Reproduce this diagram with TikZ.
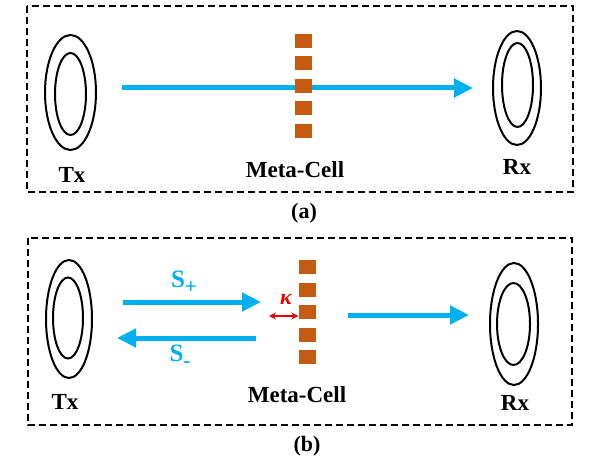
\documentclass[tikz,border=0pt]{standalone}
\usepackage{fontspec}
\setmainfont{Liberation Serif}
\usetikzlibrary{arrows.meta,shapes.geometric}
\definecolor{wavecolor}{RGB}{0,176,240}
\definecolor{cellcolor}{RGB}{197,90,17}
\definecolor{kappared}{RGB}{235,0,0}
\newcommand{\wsub}[1]{\raisebox{-0.5ex}{\fontsize{21}{24}\selectfont #1}}
\tikzset{
  frame/.style={draw, dash pattern=on 7pt off 4pt, line width=1.1pt},
  loop/.style={draw, ellipse, line width=2pt, inner sep=0pt},
  cell/.style={fill=cellcolor, minimum width=17pt, minimum height=14pt, inner sep=0pt},
  wave/.style={wavecolor, line width=5pt, -{Triangle[length=19pt,width=18pt]}},
  lab/.style={font=\fontsize{23}{26}\selectfont\bfseries},
}

\begin{document}
\begin{tikzpicture}[x=1pt, y=-1pt]
    \useasboundingbox (0,0) rectangle (593,462);
    % Panel (a): direct link
    \draw[frame] (27,6) rectangle (573,192);
    \node[loop, minimum width=51pt, minimum height=115pt] (txa-out) at (70.5,92.5) {};
    \node[loop, minimum width=31pt, minimum height=82pt] (txa-in) at (70.5,94) {};
    \node[loop, minimum width=48pt, minimum height=114pt] (rxa-out) at (517,88) {};
    \node[loop, minimum width=31pt, minimum height=84pt] (rxa-in) at (517.5,85) {};
    \node[lab] (txa-lab) at (72,175) {Tx};
    \node[lab] (rxa-lab) at (517,167) {Rx};
    \node[lab] (cella-lab) at (295,170) {Meta-Cell};
    \coordinate (a-src) at (122,88);
    \coordinate (a-dst) at (473,88);
    \draw[wave] (a-src) -- (a-dst);
    % Cells
    \foreach \k in {1,...,5} {
      \node[cell] (cella-\k) at (303,{41+22.5*(\k-1)}) {};
    }
    \node[font=\fontsize{22}{26}\selectfont\bfseries] (cap-a) at (304,213) {(a)};

    % Panel (b): incident, reflected and transmitted waves
    \draw[frame] (28,238) rectangle (572,425);
    \node[loop, minimum width=46pt, minimum height=118pt] (txb-out) at (69,319) {};
    \node[loop, minimum width=30pt, minimum height=81pt] (txb-in) at (68,318) {};
    \node[loop, minimum width=48pt, minimum height=122pt] (rxb-out) at (514,324) {};
    \node[loop, minimum width=33pt, minimum height=82pt] (rxb-in) at (513.5,324) {};
    \node[lab] (txb-lab) at (65,402) {Tx};
    \node[lab] (rxb-lab) at (515,403) {Rx};
    \node[lab] (cellb-lab) at (297,395) {Meta-Cell};
    % Cells
    \foreach \k in {1,...,5} {
      \node[cell] (cellb-\k) at (307,{267+22.5*(\k-1)}) {};
    }
    \coordinate (sp-src) at (123,302);
    \coordinate (sp-dst) at (261,302);
    \coordinate (sm-src) at (256,338);
    \coordinate (sm-dst) at (117,338);
    \coordinate (tr-src) at (348,315);
    \coordinate (tr-dst) at (469,315);
    \coordinate (k-end) at (269,316);
    \draw[wave] (sp-src) -- (sp-dst);
    \draw[wave] (sm-src) -- (sm-dst);
    \draw[wave] (tr-src) -- (tr-dst);
    \node[lab, wavecolor, font=\fontsize{25}{28}\selectfont\bfseries] (sp-lab) at (184,282) {S\wsub{+}};
    \node[lab, wavecolor, font=\fontsize{25}{28}\selectfont\bfseries] (sm-lab) at (180,356) {S\wsub{-}};
    \draw[kappared, line width=1.4pt, {Stealth[length=7pt,width=7pt]}-{Stealth[length=7pt,width=7pt]}]
      (k-end) -- (k-end -| cellb-3.west);
    \node[kappared, font=\fontsize{22}{26}\selectfont\bfseries\itshape] (k-lab) at (286,299) {κ};
    \node[font=\fontsize{22}{26}\selectfont\bfseries] (cap-b) at (307,446) {(b)};
\end{tikzpicture}
\end{document}
